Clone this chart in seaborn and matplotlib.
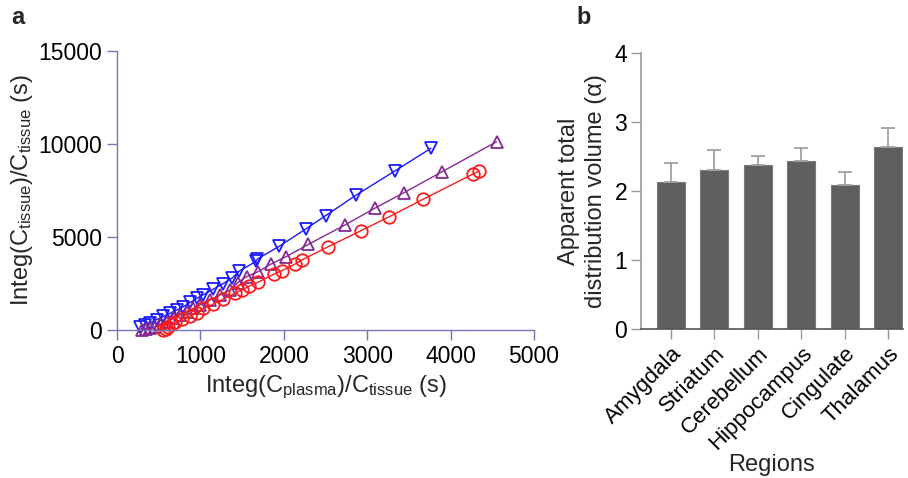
import matplotlib
matplotlib.use("Agg")
import matplotlib.pyplot as plt
import seaborn as sns
import numpy as np
import pandas as pd

# ---- Panel a data ----
blue_x = [276, 330, 396, 476, 556, 636, 716, 796, 876, 956, 1036, 1156, 1274, 1382, 1459, 1670, 1683, 1944, 2268, 2500, 2868, 3336, 3764]
blue_y = [179, 250, 400, 560, 730, 900, 1075, 1260, 1480, 1700, 1900, 2200, 2500, 2800, 3150, 3700, 3820, 4500, 5447, 6146, 7258, 8565, 9770]

purple_x = [300, 350, 396, 456, 516, 596, 676, 756, 836, 916, 996, 1116, 1236, 1356, 1446, 1553, 1690, 1840, 2025, 2295, 2732, 3088, 3439, 3898, 4550]
purple_y = [0, 40, 90, 179, 322, 448, 627, 806, 985, 1165, 1344, 1613, 1900, 2150, 2544, 2867, 3136, 3530, 3942, 4606, 5645, 6541, 7383, 8511, 10123]

red_x = [556, 590, 616, 656, 700, 776, 876, 956, 1036, 1148, 1276, 1412, 1496, 1588, 1688, 1876, 1976, 2136, 2216, 2532, 2924, 3264, 3668, 4268, 4340]
red_y = [0, 60, 179, 322, 430, 573, 753, 932, 1165, 1380, 1667, 1971, 2150, 2365, 2562, 2993, 3190, 3548, 3763, 4480, 5339, 6093, 7025, 8387, 8548]

# ---- Panel b data ----
regions = ["Amygdala", "Striatum", "Cerebellum", "Hippocampus", "Cingulate", "Thalamus"]
vd_mean = [2.13, 2.31, 2.38, 2.43, 2.08, 2.64]
vd_err = [0.28, 0.28, 0.13, 0.20, 0.19, 0.28]

sns.set_theme(style="white")
plt.rcParams['font.family'] = ['Liberation Sans', 'DejaVu Sans']
plt.rcParams['mathtext.fontset'] = 'custom'
plt.rcParams['mathtext.rm'] = 'Liberation Sans'
plt.rcParams['mathtext.it'] = 'Liberation Sans'

FS = 16.5
FL = 17
fig = plt.figure(figsize=(9.08, 4.78), dpi=100)
ax1 = fig.add_axes([0.1289, 0.3096, 0.4593, 0.5837])
ax2 = fig.add_axes([0.7059, 0.3117, 0.2885, 0.5774])

spine_a = '#7676b6'
series = [
    (blue_x, blue_y, '#1a1aff', 'v'),
    (purple_x, purple_y, '#862a92', '^'),
    (red_x, red_y, '#ff1a1a', 'o'),
]
for xs, ys, col, mk in series:
    df = pd.DataFrame({'x': xs, 'y': ys})
    sns.lineplot(data=df, x='x', y='y', ax=ax1, sort=False, color=col, lw=1.0,
                 marker=mk, markersize=9, markerfacecolor='none',
                 markeredgecolor=col, markeredgewidth=1.3, clip_on=False)

ax1.set_xlim(0, 5000)
ax1.set_ylim(0, 15000)
ax1.set_xticks([0, 1000, 2000, 3000, 4000, 5000])
ax1.set_yticks([0, 5000, 10000, 15000])
for s in ['top', 'right']:
    ax1.spines[s].set_visible(False)
for s in ['left', 'bottom']:
    ax1.spines[s].set_color(spine_a)
    ax1.spines[s].set_linewidth(1.0)
ax1.tick_params(axis='both', direction='out', length=7, width=1.0, color=spine_a,
                labelsize=FS, pad=4, labelcolor='black', bottom=True, left=True)
ax1.set_xlabel('Integ(C$_{\\mathrm{plasma}}$)/C$_{\\mathrm{tissue}}$ (s)', fontsize=FL, labelpad=4)
ax1.set_ylabel('Integ(C$_{\\mathrm{tissue}}$)/C$_{\\mathrm{tissue}}$ (s)', fontsize=FL, labelpad=2)

# ---- Panel b ----
dfb = pd.DataFrame({'region': regions, 'vd': vd_mean})
sns.barplot(data=dfb, x='region', y='vd', ax=ax2, color='#5f5f5f', saturation=1,
            width=0.65, edgecolor='#7a7a7a', linewidth=0.8, errorbar=None)
xpos = np.arange(len(regions))
ax2.errorbar(xpos, vd_mean, yerr=[np.zeros(len(vd_err)), vd_err], fmt='none',
             ecolor='#a0a0a0', elinewidth=1.3, capsize=4.7, capthick=1.3, zorder=1)
ax2.set_xlim(-0.69, 5.34)
ax2.set_ylim(0, 4)
ax2.set_yticks([0, 1, 2, 3, 4])
spine_b = '#9a9a9a'
for s in ['top', 'right']:
    ax2.spines[s].set_visible(False)
for s in ['left', 'bottom']:
    ax2.spines[s].set_color(spine_b)
    ax2.spines[s].set_linewidth(1.2)
ax2.spines['bottom'].set_color('#555555')
ax2.tick_params(axis='both', direction='out', length=7, width=1.0, color=spine_b,
                labelsize=FS, pad=3, labelcolor='black', bottom=True, left=True)
ax2.set_xticks(xpos)
ax2.set_xticklabels(regions, rotation=45, ha='right', rotation_mode='anchor', fontsize=16)
ax2.set_xlabel('Regions', fontsize=FL, labelpad=0)
ax2.set_ylabel('Apparent total\ndistribution volume (\u03b1)', fontsize=FL, labelpad=5, linespacing=1.3)

fig.text(18 / 908, 1 - 18 / 478, 'a', fontsize=17, fontweight='bold', ha='center', va='center')
fig.text(584 / 908, 1 - 18 / 478, 'b', fontsize=17, fontweight='bold', ha='center', va='center')

fig.savefig('out.png', dpi=100)
